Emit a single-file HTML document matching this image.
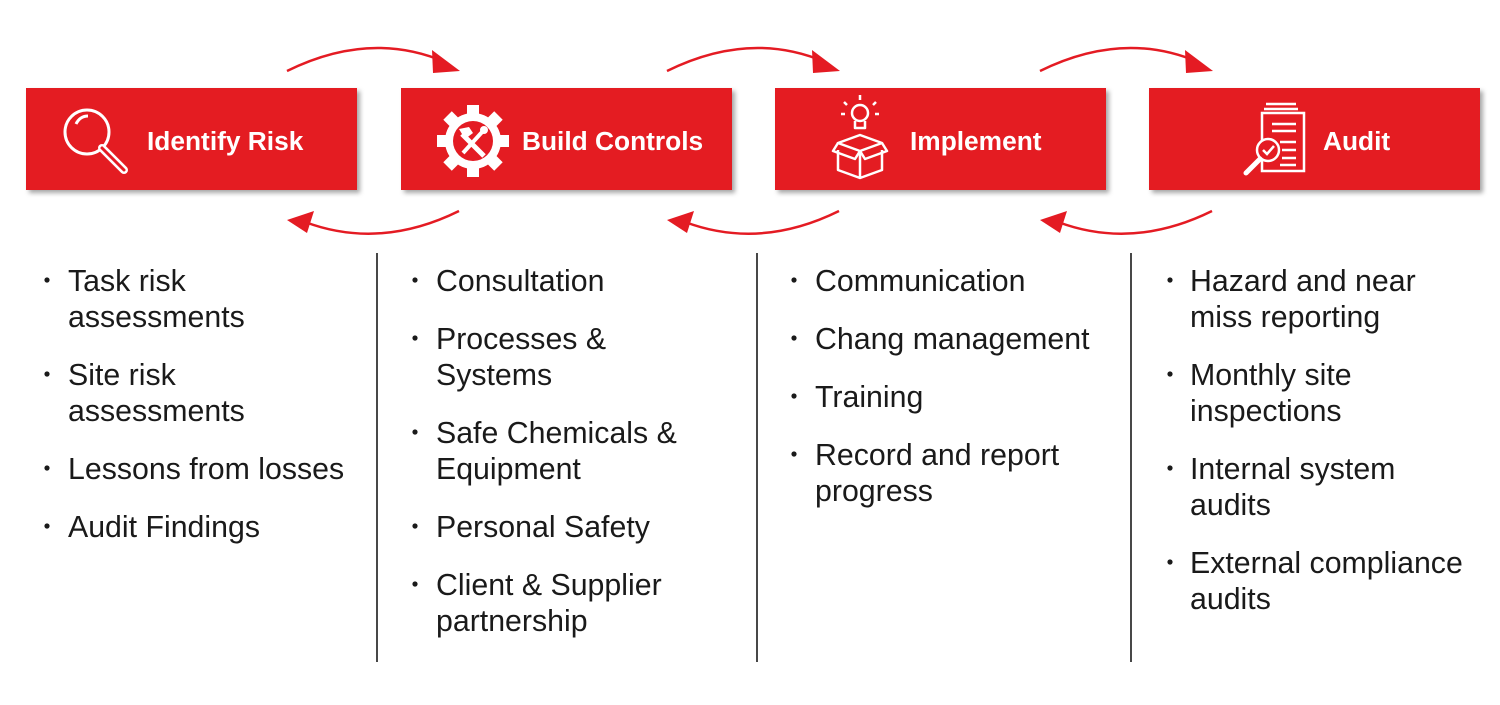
<!DOCTYPE html>
<html><head><meta charset="utf-8"><style>
html,body{margin:0;padding:0;background:#fff}
svg{display:block}
.t{font-family:"Liberation Sans",Arial,sans-serif;font-weight:bold;font-size:26.3px;fill:#fff}
.b{font-family:"Liberation Sans",Arial,sans-serif;font-size:30.3px;fill:#1a1a1a}
</style></head><body>
<svg width="1500" height="705" viewBox="0 0 1500 705" xmlns="http://www.w3.org/2000/svg">
<defs>
<filter id="sh" x="-5%" y="-10%" width="115%" height="130%"><feDropShadow dx="3" dy="3" stdDeviation="2.5" flood-color="#000" flood-opacity="0.35"/></filter>
<g id="arr">
<path d="M287,71 Q370,30 445,62" fill="none" stroke="#e41b23" stroke-width="2.5"/>
<polygon points="432,50 460,71 433,73" fill="#e41b23"/>
<path d="M459,211 Q380,250 305,222" fill="none" stroke="#e41b23" stroke-width="2.5"/>
<polygon points="287,220 314,211 307,233" fill="#e41b23"/>
</g>
</defs>
<use href="#arr"/>
<use href="#arr" transform="translate(380,0)"/>
<use href="#arr" transform="translate(753,0)"/>

<g fill="#e41b23" filter="url(#sh)">
<rect x="26" y="88" width="331" height="102"/>
<rect x="401" y="88" width="331" height="102"/>
<rect x="775" y="88" width="331" height="102"/>
<rect x="1149" y="88" width="331" height="102"/>
</g>

<g stroke="#fff" stroke-width="3" fill="none">
<circle cx="87" cy="132" r="22"/>
<path d="M76,124 Q80,116 88,116"/>
<path d="M102,148 L124,170" stroke-width="8" stroke-linecap="round"/>
</g>
<path d="M102,148 L124,170" stroke="#e41b23" stroke-width="3" stroke-linecap="round"/>
<text class="t" x="147" y="150">Identify Risk</text>

<g fill="#fff" transform="translate(473,141)">
<circle r="28"/>
<g id="tooth"><rect x="-6" y="-36" width="12" height="12"/></g>
<use href="#tooth" transform="rotate(45)"/><use href="#tooth" transform="rotate(90)"/><use href="#tooth" transform="rotate(135)"/>
<use href="#tooth" transform="rotate(180)"/><use href="#tooth" transform="rotate(225)"/><use href="#tooth" transform="rotate(270)"/><use href="#tooth" transform="rotate(315)"/>
<circle r="20" fill="#e41b23"/>
<path d="M-11,-7 L11,15" stroke="#fff" stroke-width="5"/>
<path d="M-14,-12 L-4,-14 L0,-8 L-8,-2 Z"/>
<path d="M10,-10 L-10,12" stroke="#fff" stroke-width="4"/>
<circle cx="11" cy="-11" r="4"/>
</g>
<text class="t" x="522" y="150">Build Controls</text>

<g stroke="#fff" stroke-width="2.5" fill="none" stroke-linejoin="round">
<circle cx="860" cy="113" r="8"/>
<path d="M855,121 v7 h10 v-7"/>
<path d="M860,100 v-5 M847,105 l-3,-3 M873,105 l3,-3 M845,114 h-4 M875,114 h4"/>
<path d="M838,143 l22,8 l22,-8 l-22,-8 z"/>
<path d="M838,143 l-5,8 l22,8 l5,-8 M882,143 l5,8 l-22,8 l-5,-8"/>
<path d="M838,150 v20 l22,8 l22,-8 v-20 M860,151 v27"/>
</g>
<text class="t" x="910" y="150">Implement</text>

<g stroke="#fff" stroke-width="2.5" fill="none">
<path d="M1266,104 h30 M1264,109 h34"/>
<rect x="1262" y="113" width="42" height="58"/>
<path d="M1272,124 h24 M1272,131 h24 M1280,142 h16 M1282,150 h14 M1282,158 h14 M1280,165 h16"/>
<circle cx="1268" cy="150" r="11" fill="#e41b23"/>
<path d="M1263,150 l4,4 l7,-8"/>
<path d="M1260,159 l-14,14" stroke-width="5" stroke-linecap="round"/>
</g>
<text class="t" x="1323" y="150">Audit</text>

<g stroke="#333" stroke-width="1.8">
<line x1="377" y1="253" x2="377" y2="662"/>
<line x1="757" y1="253" x2="757" y2="662"/>
<line x1="1131" y1="253" x2="1131" y2="662"/>
</g>

<g class="b">
<text x="68" y="291">Task risk</text><text x="68" y="327">assessments</text>
<text x="68" y="385">Site risk</text><text x="68" y="421">assessments</text>
<text x="68" y="479">Lessons from losses</text>
<text x="68" y="537">Audit Findings</text>

<text x="436" y="291">Consultation</text>
<text x="436" y="349">Processes &amp;</text><text x="436" y="385">Systems</text>
<text x="436" y="443">Safe Chemicals &amp;</text><text x="436" y="479">Equipment</text>
<text x="436" y="537">Personal Safety</text>
<text x="436" y="595">Client &amp; Supplier</text><text x="436" y="631">partnership</text>

<text x="815" y="291">Communication</text>
<text x="815" y="349">Chang management</text>
<text x="815" y="407">Training</text>
<text x="815" y="465">Record and report</text><text x="815" y="501">progress</text>

<text x="1190" y="291">Hazard and near</text><text x="1190" y="327">miss reporting</text>
<text x="1190" y="385">Monthly site</text><text x="1190" y="421">inspections</text>
<text x="1190" y="479">Internal system</text><text x="1190" y="515">audits</text>
<text x="1190" y="573">External compliance</text><text x="1190" y="609">audits</text>
</g>
<g fill="#1a1a1a">
<circle cx="47" cy="280" r="2.6"/><circle cx="47" cy="374" r="2.6"/><circle cx="47" cy="468" r="2.6"/><circle cx="47" cy="526" r="2.6"/>
<circle cx="415" cy="280" r="2.6"/><circle cx="415" cy="338" r="2.6"/><circle cx="415" cy="432" r="2.6"/><circle cx="415" cy="526" r="2.6"/><circle cx="415" cy="584" r="2.6"/>
<circle cx="794" cy="280" r="2.6"/><circle cx="794" cy="338" r="2.6"/><circle cx="794" cy="396" r="2.6"/><circle cx="794" cy="454" r="2.6"/>
<circle cx="1170" cy="280" r="2.6"/><circle cx="1170" cy="374" r="2.6"/><circle cx="1170" cy="468" r="2.6"/><circle cx="1170" cy="562" r="2.6"/>
</g>
</svg>
</body></html>
